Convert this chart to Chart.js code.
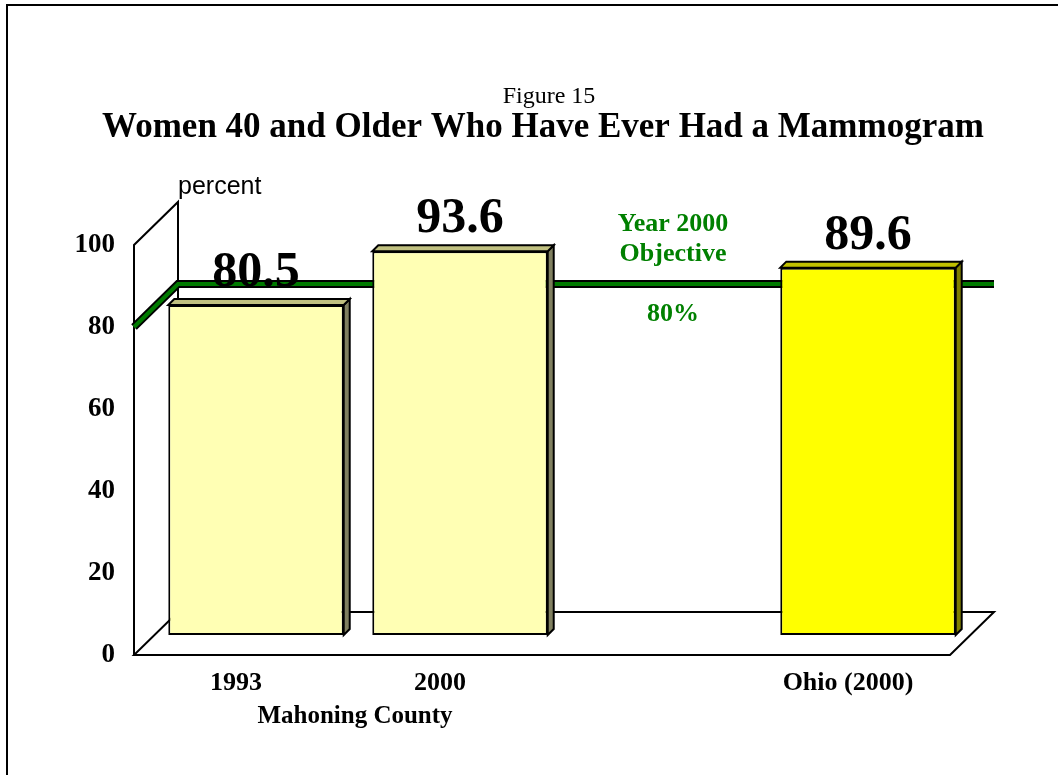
<!DOCTYPE html>
<html>
<head>
<meta charset="utf-8">
<script src="https://cdn.jsdelivr.net/npm/chart.js@4"></script>
<style>
  html,body{margin:0;padding:0;background:#fff;}
  canvas{display:block;}
</style>
</head>
<body>
<canvas id="c" width="1058" height="775"></canvas>
<script>
// data
const categories = ['1993', '2000', '', 'Ohio (2000)'];
const percentValues = [80.5, 93.6, null, 89.6];
const objectiveValue = 80;
const objectiveLines = ['Year 2000', 'Objective'];
const objectiveLabel = '80%';
const groupLabel = 'Mahoning County';

const frontColors = ['#FFFFB4', '#FFFFB4', '#FFFFB4', '#FFFF00'];
const sideColors  = ['#808060', '#808060', '#808060', '#808000'];
const topColors   = ['#C0C080', '#C0C080', '#C0C080', '#C0C000'];

const SERIF = '"Liberation Serif", "Times New Roman", serif';
const SANS = '"Liberation Sans", Arial, sans-serif';
const DX = 44, DY = 43;   // depth of the 3d box
const BX = 20, BY = 20;   // bars sit half way into it
const BD = 6;             // bar thickness

function poly(ctx, pts, fill){
  ctx.beginPath();
  pts.forEach((p,i)=> i ? ctx.lineTo(p[0],p[1]) : ctx.moveTo(p[0],p[1]));
  ctx.closePath();
  ctx.fillStyle = fill; ctx.fill();
  ctx.lineWidth = 2; ctx.strokeStyle = '#000'; ctx.stroke();
}

const scene = {
  id: 'scene',
  beforeDatasetsDraw(chart){
    const {ctx, chartArea:a, scales:{y}} = chart;
    ctx.save();
    ctx.lineWidth = 2; ctx.strokeStyle = '#000';
    // frame
    ctx.beginPath(); ctx.moveTo(7, 775); ctx.lineTo(7, 5); ctx.lineTo(1058, 5); ctx.stroke();
    // floor
    ctx.beginPath();
    ctx.moveTo(a.left, a.bottom); ctx.lineTo(a.right, a.bottom);
    ctx.lineTo(a.right+DX, a.bottom-DY); ctx.lineTo(a.left+DX, a.bottom-DY);
    ctx.closePath(); ctx.stroke();
    // side wall
    ctx.beginPath();
    ctx.moveTo(a.left, a.bottom); ctx.lineTo(a.left, a.top);
    ctx.lineTo(a.left+DX, a.top-DY); ctx.lineTo(a.left+DX, a.bottom-DY);
    ctx.stroke();
    // objective line on the walls
    const yo = y.getPixelForValue(objectiveValue);
    const path = () => {
      ctx.beginPath(); ctx.moveTo(a.left, yo);
      ctx.lineTo(a.left+DX, yo-DY); ctx.lineTo(a.right+DX, yo-DY);
    };
    path(); ctx.lineWidth = 8; ctx.strokeStyle = '#000'; ctx.stroke();
    path(); ctx.lineWidth = 4; ctx.strokeStyle = '#007A00'; ctx.stroke();
    ctx.restore();
    ctx.save();
    ctx.translate(BX, -BY);
  },
  afterDatasetsDraw(chart){
    const ctx = chart.ctx;
    chart.getDatasetMeta(0).data.forEach((bar,i)=>{
      if(percentValues[i] == null) return;
      const {x, y, base, width} = bar.getProps(['x','y','base','width'], true);
      const l = x-width/2, r = x+width/2;
      poly(ctx, [[r,y],[r+BD,y-BD],[r+BD,base-BD],[r,base]], sideColors[i]);
      poly(ctx, [[l,y],[l+BD,y-BD],[r+BD,y-BD],[r,y]], topColors[i]);
    });
    ctx.restore();
  },
  afterDraw(chart){
    const {ctx, scales:{x, y}} = chart;
    ctx.save();
    ctx.fillStyle = '#000';
    ctx.textAlign = 'center';
    ctx.textBaseline = 'alphabetic';
    ctx.font = '24px ' + SERIF;
    ctx.fillText('Figure 15', 549, 103);
    ctx.font = 'bold 35px ' + SERIF;
    ctx.fillText('Women 40 and Older Who Have Ever Had a Mammogram', 543, 137);
    ctx.textAlign = 'left';
    ctx.font = '25px ' + SANS;
    ctx.fillText('percent', 178, 194);
    // value labels
    ctx.textAlign = 'center';
    ctx.font = 'bold 50px ' + SERIF;
    chart.getDatasetMeta(0).data.forEach((bar,i)=>{
      if(percentValues[i] == null) return;
      ctx.fillText(percentValues[i].toFixed(1), bar.x+BX, bar.y-BY-19);
    });
    // objective text
    const ox = x.getPixelForValue(2) + 29;
    const yo = y.getPixelForValue(objectiveValue) - DY;
    ctx.fillStyle = '#008000';
    ctx.font = 'bold 26px ' + SERIF;
    ctx.fillText(objectiveLines[0], ox, yo-53);
    ctx.fillText(objectiveLines[1], ox, yo-23);
    ctx.fillText(objectiveLabel, ox, yo+37);
    // group label
    ctx.fillStyle = '#000';
    ctx.font = 'bold 25px ' + SERIF;
    ctx.fillText(groupLabel, (x.getPixelForValue(0)+x.getPixelForValue(1))/2 + 17, 723);
    ctx.restore();
  }
};

new Chart(document.getElementById('c'), {
  type: 'bar',
  data: {
    labels: categories,
    datasets: [{
      data: percentValues,
      backgroundColor: frontColors,
      borderColor: '#000',
      borderWidth: 2,
      borderSkipped: false,
      categoryPercentage: 1,
      barPercentage: 0.86,
      clip: false
    }]
  },
  options: {
    responsive: false,
    animation: false,
    layout: {padding: {top: 245, right: 108, bottom: 0, left: 0}},
    plugins: {legend: {display: false}, tooltip: {enabled: false}},
    scales: {
      x: {
        grid: {display: false, drawTicks: false},
        border: {display: false},
        ticks: {color: '#000', font: {family: SERIF, size: 26, weight: 'bold'}, padding: 13, maxRotation: 0, autoSkip: false},
        afterFit(s){ s.height = 120; }
      },
      y: {
        min: 0, max: 100,
        grid: {display: false, drawTicks: false},
        border: {display: false},
        ticks: {stepSize: 20, color: '#000', font: {family: SERIF, size: 27, weight: 'bold'}, padding: 19},
        afterFit(s){ s.width = 134; }
      }
    }
  },
  plugins: [scene]
});
</script>
</body>
</html>
